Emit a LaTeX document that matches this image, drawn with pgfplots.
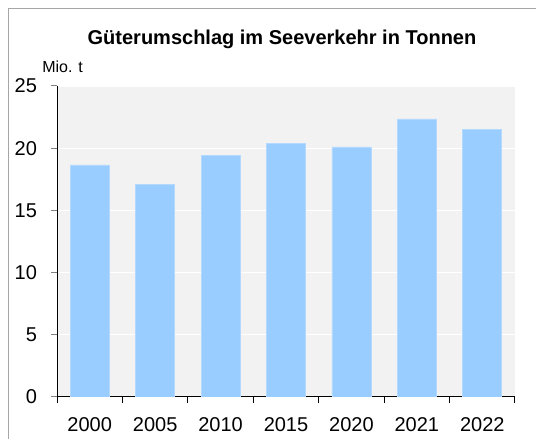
\documentclass[border=0pt]{standalone}
\usepackage{fontspec}
\setmainfont{Liberation Sans}
\usepackage{pgfplots}
\pgfplotsset{compat=1.18}
\definecolor{barblue}{HTML}{99CCFF}
\definecolor{baredge}{HTML}{B3D9FF}
\definecolor{bgray}{HTML}{F2F2F2}
\definecolor{framegray}{HTML}{A6A6A6}
\begin{document}
\begin{tikzpicture}
\path[use as bounding box] (0,0) rectangle (402pt,329.25pt);
\draw[framegray, line width=0.75pt] (6pt,-1pt) -- (6pt,322.5pt) -- (403pt,322.5pt);
\node[font=\bfseries\fontsize{15}{18}\selectfont] at (211.5pt,300pt) {Güterumschlag im Seeverkehr in Tonnen};
\node[anchor=west, inner sep=0pt, font=\fontsize{12}{14}\selectfont] at (31.5pt,279pt) {Mio. t};
\begin{axis}[
  at={(42.75pt,31.5pt)}, anchor=south west,
  scale only axis, width=343.5pt, height=233.25pt,
  xmin=-0.5, xmax=6.5, ymin=0, ymax=25,
  axis x line*=bottom, axis y line*=left,
  axis line style={black, line width=0.75pt, -},
  axis background/.style={fill=bgray},
  tick align=outside,
  major tick length=4.5pt,
  ytick={0,5,...,25},
  ytick style={gray, line width=0.75pt},
  ymajorgrids, grid style={white, line width=1pt},
  xtick={-0.5,0.5,...,6.5}, xticklabels={},
  xtick style={black, line width=0.75pt},
  extra x ticks={0,1,2,3,4,5,6},
  extra x tick labels={2000,2005,2010,2015,2020,2021,2022},
  extra x tick style={major tick length=0pt, xticklabel style={yshift=-12pt}},
  tick label style={font=\fontsize{15}{18}\selectfont},
  yticklabel style={xshift=-7pt},
  /pgf/number format/assume math mode=true,
  ybar, bar width=29.25pt,
]
\addplot[fill=barblue, draw=baredge, line width=0.6pt] coordinates {
  (0,18.65) (1,17.1) (2,19.45) (3,20.35) (4,20.1) (5,22.35) (6,21.5)
};
\end{axis}
\end{tikzpicture}
\end{document}
